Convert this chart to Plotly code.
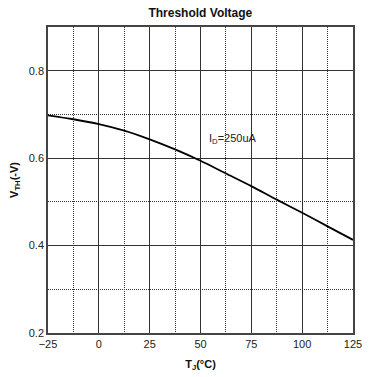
import plotly.graph_objects as go

temp_c = [-25, -12.5, 0, 12.5, 25, 37.5, 50, 62.5, 75, 87.5, 100, 112.5, 125]
vth = [0.698, 0.689, 0.678, 0.663, 0.643, 0.620, 0.594, 0.565, 0.536, 0.505, 0.475, 0.444, 0.413]
x_ticks = [-25, 0, 25, 50, 75, 100, 125]
y_ticks = [0.2, 0.4, 0.6, 0.8]

fig = go.Figure()
fig.add_trace(go.Scatter(x=temp_c, y=vth, mode="lines", line=dict(color="black", width=1.8, shape="spline", smoothing=0.8),
                         showlegend=False, hoverinfo="skip"))

fig.add_annotation(x=53, y=0.643, text="I<sub>D</sub>=250uA", showarrow=False, xanchor="left",
                   font=dict(family="Liberation Sans, Arial", size=11, color="#222"))

axis_common = dict(showline=True, mirror=True, linecolor="#444", linewidth=1.5, ticks="",
                   showgrid=True, gridcolor="#333", gridwidth=1.2, zeroline=False, automargin=False,
                   tickfont=dict(family="Liberation Sans, Arial", size=11, color="#222"))

fig.update_xaxes(range=[-25, 125], tickvals=x_ticks,
                 minor=dict(dtick=12.5, tick0=-25, showgrid=True, griddash="1px,1px", gridcolor="#333", gridwidth=1),
                 title=dict(text="<b>T<sub>J</sub>(°C)</b>", font=dict(family="Liberation Sans, Arial", size=11, color="#111"), standoff=11),
                 **axis_common)
fig.update_yaxes(range=[0.2, 0.9], tickvals=y_ticks, tickformat=".1f",
                 minor=dict(dtick=0.1, tick0=0.2, showgrid=True, griddash="1px,1px", gridcolor="#333", gridwidth=1),
                 title=dict(text="<b>V<sub>TH</sub>(-V)</b>", font=dict(family="Liberation Sans, Arial", size=11, color="#111"), standoff=8),
                 **axis_common)

fig.update_layout(
    width=371, height=377,
    margin=dict(l=48, r=18, t=27, b=44),
    paper_bgcolor="white", plot_bgcolor="white",
    title=dict(text="<b>Threshold Voltage</b>", x=0.54, xanchor="center", y=0.965, yanchor="middle",
               font=dict(family="Liberation Sans, Arial", size=12, color="#111")),
)

fig.write_html("out.html")
